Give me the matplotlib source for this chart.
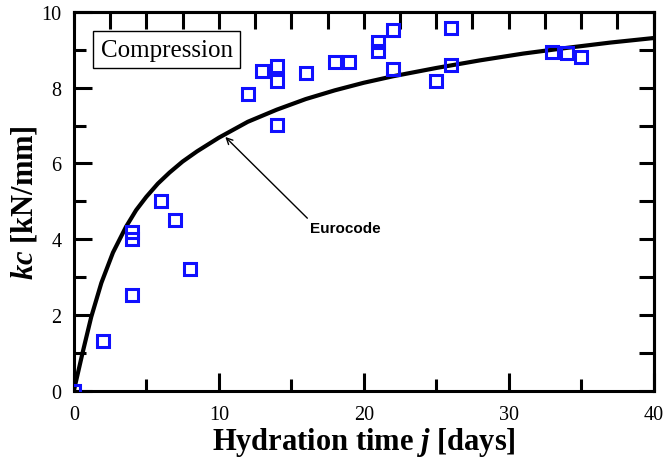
import numpy as np
import matplotlib
matplotlib.use("Agg")
import matplotlib.pyplot as plt

days = [0, 2, 4, 4, 4, 6, 7, 8, 12, 13, 14, 14, 14, 16, 18, 19,
        21, 21, 22, 22, 25, 26, 26, 33, 34, 35]
kc = [0.0, 1.32, 4.2, 4.0, 2.53, 5.01, 4.5, 3.22, 7.84, 8.44, 8.58, 8.18, 7.02, 8.39, 8.68, 8.68,
      9.2, 8.97, 9.52, 8.5, 8.18, 9.57, 8.6, 8.95, 8.92, 8.81]

# Eurocode curve
curve_t = [0, 0.6, 1.2, 1.9, 2.7, 3.6, 4.3, 5, 5.8, 6.6, 7.5, 8.5, 10, 12, 14,
           16, 18, 20, 22, 25, 28, 31, 34, 37, 40]
curve_k = [0, 1.0, 1.95, 2.85, 3.65, 4.33, 4.77, 5.12, 5.47, 5.76, 6.05, 6.32, 6.68, 7.1, 7.42,
           7.7, 7.93, 8.13, 8.3, 8.52, 8.72, 8.9, 9.05, 9.19, 9.31]

plt.rcParams["font.family"] = ["Liberation Serif", "DejaVu Serif"]
plt.rcParams["mathtext.fontset"] = "custom"
plt.rcParams["mathtext.rm"] = "Liberation Serif"
plt.rcParams["mathtext.it"] = "Liberation Serif:italic"
plt.rcParams["mathtext.bf"] = "Liberation Serif:bold"
plt.rcParams["mathtext.bfit"] = "Liberation Serif:bold:italic"

fig = plt.figure(figsize=(6.65, 4.6), dpi=100)
ax = fig.add_axes([0.111, 0.148, 0.872, 0.824])

ax.plot(curve_t, curve_k, color="black", lw=3.0, solid_capstyle="round",
        solid_joinstyle="round", zorder=3)
ax.plot(days, kc, linestyle="none", marker="s", markersize=8.5,
        markerfacecolor="none", markeredgecolor="#1010ff", markeredgewidth=2.2, zorder=4)

ax.set_xlim(0, 40)
ax.set_ylim(0, 10)
ax.set_xticks([0, 10, 20, 30, 40])
ax.set_xticks([5, 15, 25, 35], minor=True)
ax.set_yticks([0, 2, 4, 6, 8, 10])
ax.set_yticks([1, 3, 5, 7, 9], minor=True)
ax.tick_params(which="major", direction="in", length=13, width=2.2, labelsize=14.5,
               top=False, right=False)
ax.tick_params(axis="x", which="major", pad=10)
ax.tick_params(axis="y", which="major", pad=9)
ax.tick_params(which="minor", direction="in", length=8.6, width=2.2, top=False, right=False)
for s in ax.spines.values():
    s.set_linewidth(2.2)

# top and right tick marks
top = ax.secondary_xaxis("top")
top.set_xticks(np.arange(0, 40.1, 2.5))
top.tick_params(direction="in", length=12, width=2.2, labeltop=False)
right = ax.secondary_yaxis("right")
right.set_yticks(np.arange(0, 10.1, 1))
right.tick_params(direction="in", length=11, width=2.2, labelright=False)
for sa in (top, right):
    for s in sa.spines.values():
        s.set_linewidth(2.2)

ax.set_xlabel(r"Hydration time $\mathbfit{j}$ [days]", fontsize=22, fontweight="bold", labelpad=1)
ax.set_ylabel(r"$\mathbfit{kc}$ [kN/mm]", fontsize=22, fontweight="bold", labelpad=1)

ax.text(6.4, 9.0, "Compression", fontsize=18, ha="center", va="center",
        bbox=dict(boxstyle="square,pad=0.3", facecolor="white", edgecolor="black", lw=1.0))

ax.annotate("Eurocode", xy=(10.45, 6.7), xytext=(16.3, 4.3),
            fontsize=11, fontweight="bold", family=["Liberation Sans", "DejaVu Sans"],
            ha="left", va="center",
            arrowprops=dict(arrowstyle="->", color="black", lw=1.0,
                            shrinkA=0, shrinkB=0, relpos=(0, 1)))

fig.savefig("out.png", dpi=100)
